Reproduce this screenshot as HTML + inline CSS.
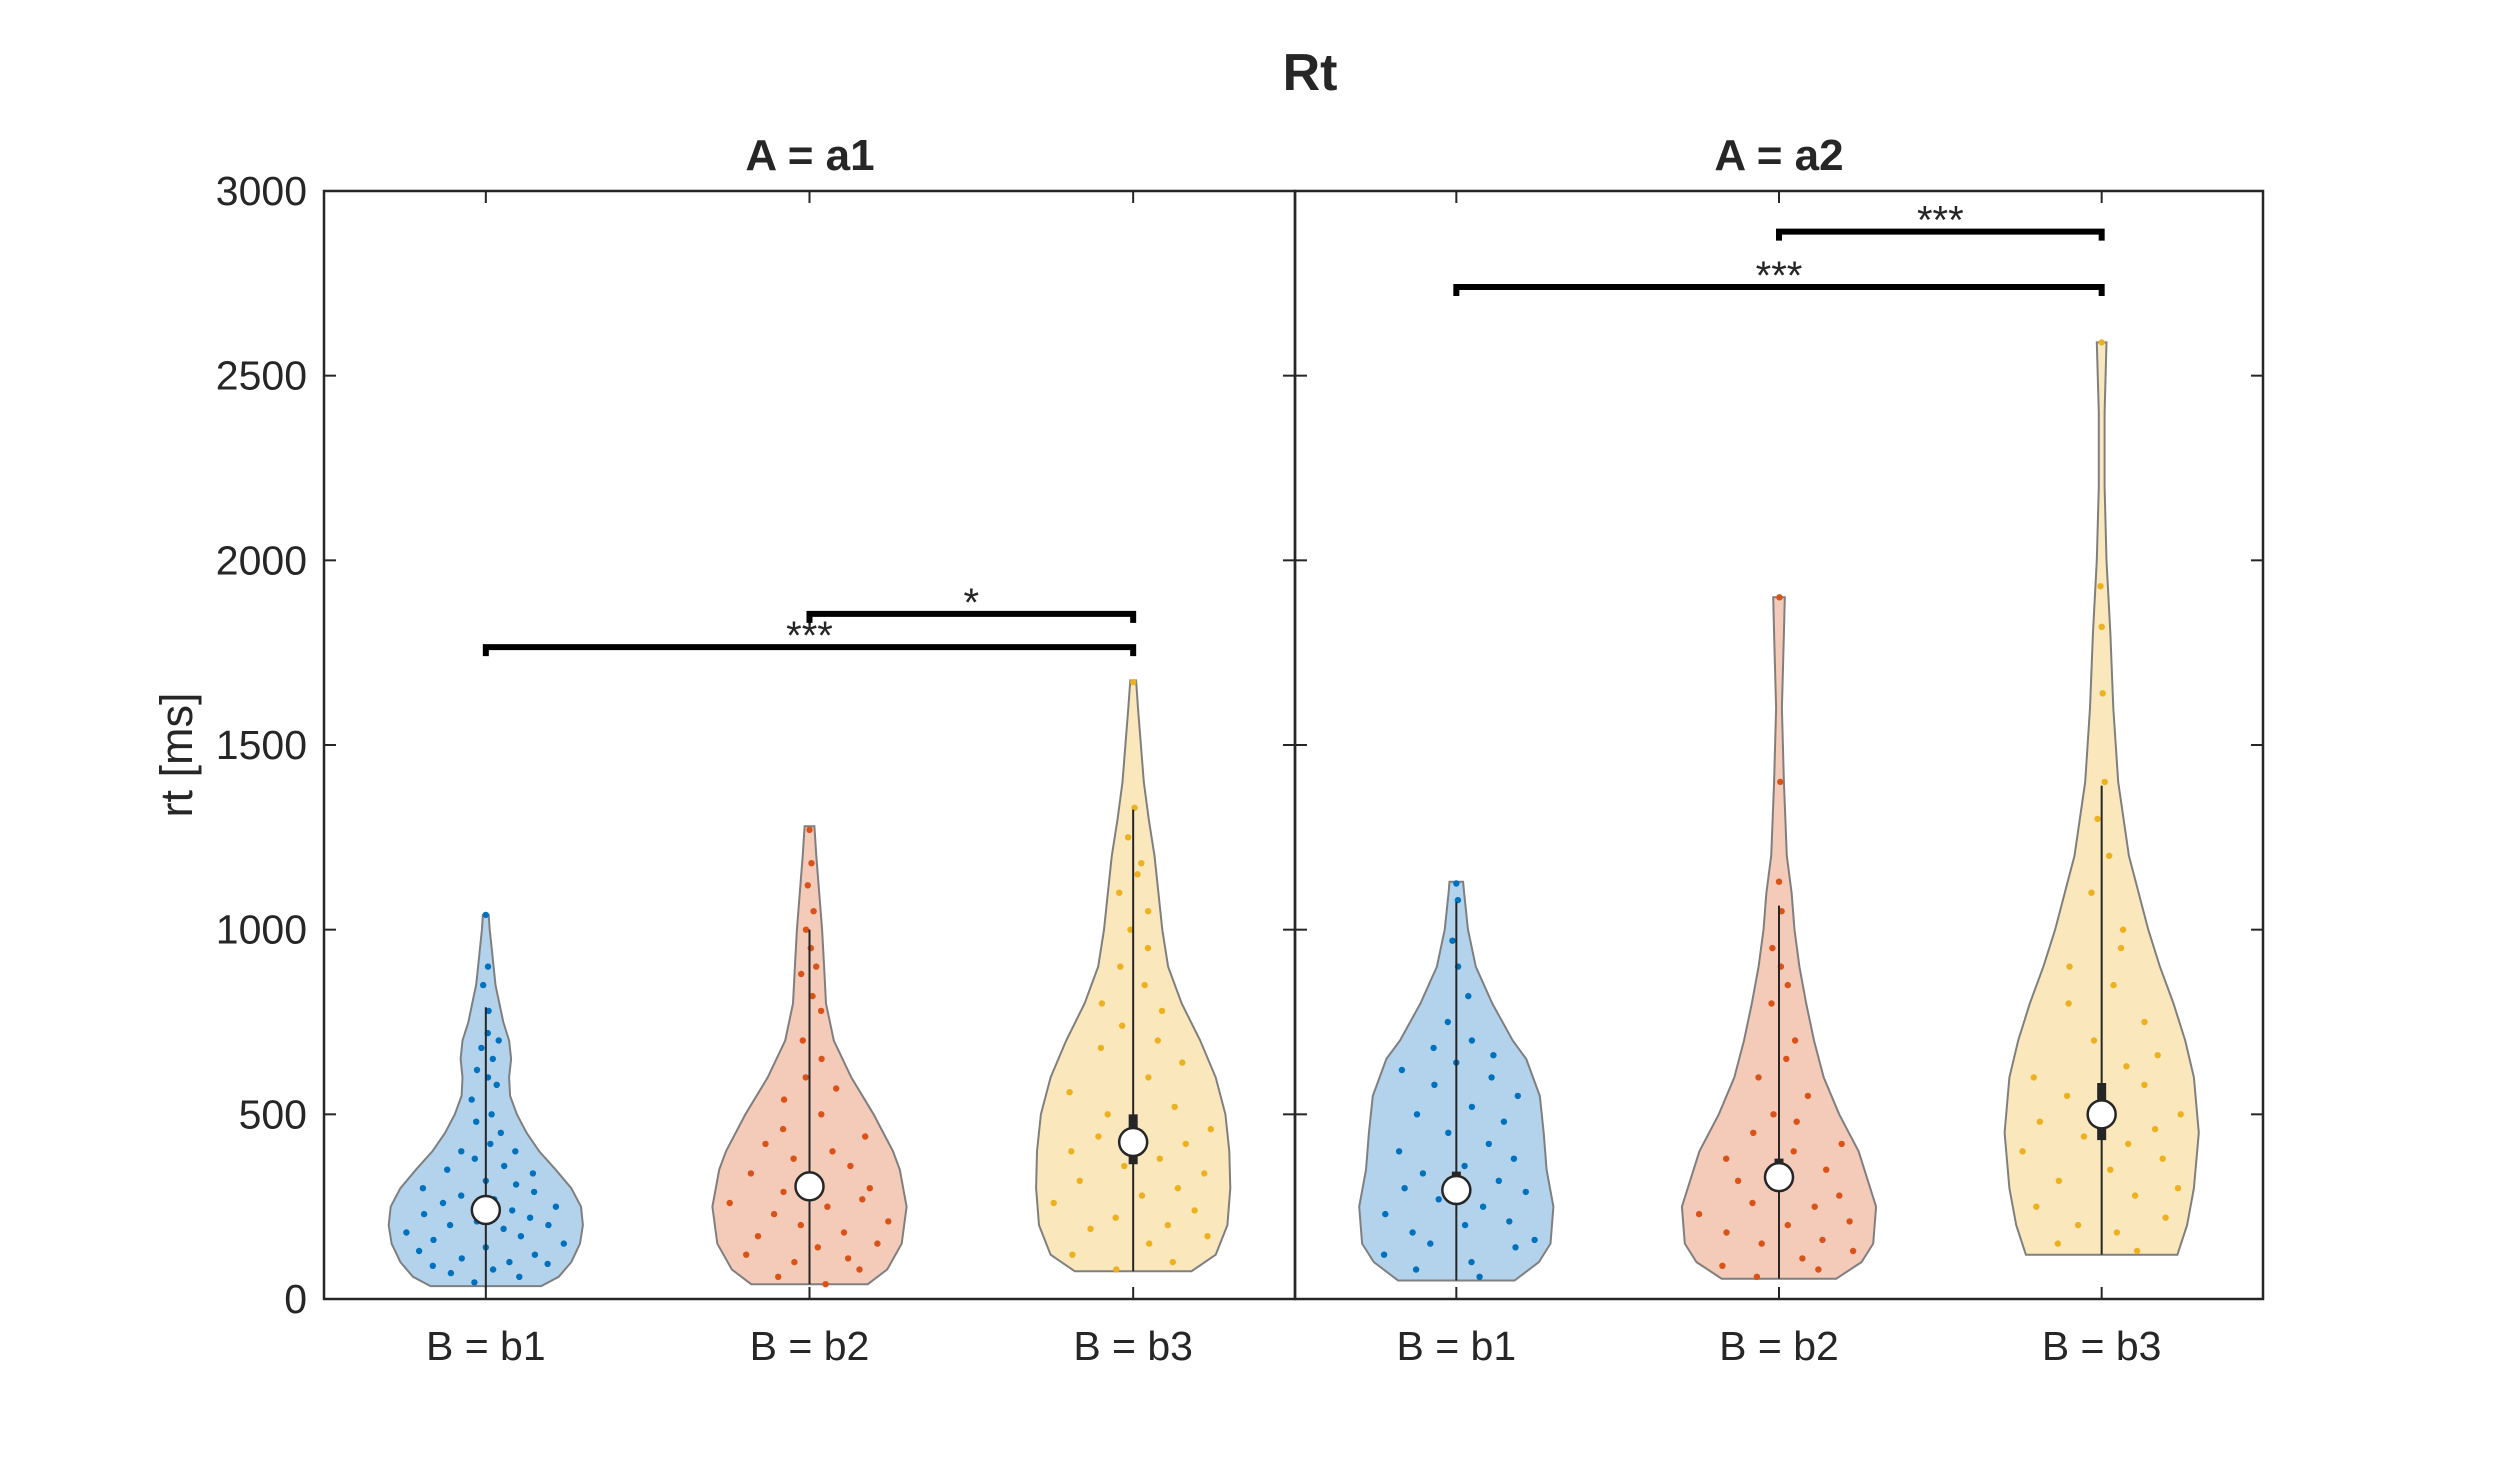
<!DOCTYPE html>
<html><head><meta charset="utf-8"><style>
html,body{margin:0;padding:0;background:#fff;}
svg{display:block;}
text{font-family:"Liberation Sans",Arial,sans-serif;fill:#262626;}
</style></head><body>
<svg id="chart" width="2500" height="1458" viewBox="0 0 2500 1458" xmlns="http://www.w3.org/2000/svg">
<rect width="2500" height="1458" fill="#fff"/>
<text x="1310" y="90" font-size="52" font-weight="bold" text-anchor="middle">Rt</text>
<text x="810" y="170" font-size="44" font-weight="bold" text-anchor="middle" fill="#000">A = a1</text>
<text x="1779" y="170" font-size="44" font-weight="bold" text-anchor="middle" fill="#000">A = a2</text>
<text transform="translate(192,755) rotate(-90)" font-size="45" text-anchor="middle">rt [ms]</text>
<g id="plot"></g>
</svg>
<script>
// ---- data ----
const yTicks = [0, 500, 1000, 1500, 2000, 2500, 3000];
const panels = ["a1", "a2"];
const categories = ["B = b1", "B = b2", "B = b3"];
const colors = ["#0072BD", "#D95319", "#EDB120"];
const fills = ["#b3d3ec", "#f4cab8", "#fae8bc"];
// violin profiles: rt levels and relative half-widths
const profY = [
 [[35,60,100,150,200,250,300,350,400,450,500,550,600,650,700,750,800,850,900,950,1000,1040],
  [40,80,150,250,350,400,500,600,700,800,900,1000,1100,1200,1280],
  [75,120,200,300,400,500,600,700,800,900,1000,1100,1200,1300,1400,1500,1600,1675]],
 [[50,100,150,250,350,450,550,650,700,800,900,1000,1100,1130],
  [55,100,150,250,400,500,600,700,800,900,1000,1100,1200,1400,1600,1800,1900],
  [120,200,300,450,600,700,800,900,1000,1100,1200,1400,1600,1800,2000,2200,2400,2590]]
];
const profW = [
 [[0.57,0.75,0.88,0.97,1.0,0.98,0.88,0.72,0.55,0.42,0.32,0.25,0.24,0.26,0.24,0.18,0.14,0.1,0.08,0.06,0.04,0.03],
  [0.6,0.8,0.95,1.0,0.93,0.86,0.66,0.43,0.25,0.17,0.15,0.13,0.1,0.07,0.05],
  [0.6,0.85,0.97,1.0,0.99,0.95,0.85,0.69,0.5,0.36,0.3,0.26,0.22,0.16,0.11,0.08,0.05,0.03]],
 [[0.6,0.85,0.97,1.0,0.93,0.9,0.86,0.72,0.58,0.37,0.2,0.12,0.08,0.07],
  [0.59,0.85,0.97,1.0,0.82,0.62,0.46,0.36,0.28,0.21,0.16,0.13,0.08,0.05,0.03,0.05,0.06],
  [0.78,0.88,0.95,1.0,0.95,0.86,0.74,0.6,0.48,0.38,0.28,0.17,0.12,0.09,0.05,0.03,0.03,0.05]]
];
const medians = [[241,305,425],[295,330,500]];
const q1 = [[225,285,365],[265,290,430]];
const q3 = [[280,345,500],[345,380,585]];
const whiskLo = [[30,40,75],[50,55,120]];
const whiskHi = [[790,1000,1325],[1075,1065,1390]];
// scatter points: rt values and jitter fraction (-1..1)
const ptsRt = [
 [[45,60,70,80,90,95,100,110,120,130,140,150,160,170,180,190,200,200,210,220,230,240,250,260,270,280,290,300,310,320,340,350,360,380,400,400,420,450,480,500,540,580,600,620,650,680,700,720,780,850,900,1040],
  [40,60,80,100,110,120,140,150,170,180,200,210,230,250,260,270,290,300,320,340,360,380,400,420,440,460,500,540,570,600,650,700,780,820,880,900,950,1000,1050,1120,1180,1270],
  [80,100,120,150,170,190,200,220,240,260,280,300,320,340,360,380,400,420,440,460,480,500,520,560,600,640,680,700,740,780,800,850,900,950,1000,1050,1100,1150,1180,1250,1330,1670]],
 [[60,80,100,120,140,150,160,180,200,210,230,250,270,290,300,320,340,360,380,400,420,450,480,500,520,550,580,600,620,640,660,680,700,750,820,900,970,1080,1125],
  [60,80,90,110,130,150,160,180,200,210,230,250,260,280,300,320,350,380,400,420,450,480,500,550,600,650,700,800,850,900,950,1050,1130,1400,1900],
  [130,150,180,200,220,250,280,300,320,350,380,400,420,440,460,480,500,520,550,580,600,630,660,700,750,800,850,900,950,1000,1100,1200,1300,1400,1640,1820,1930,2590]]
];
const ptsJit = [
 [[-0.2,0.5,-0.5,0.1,-0.7,0.8,0.3,-0.3,0.6,-0.8,0.0,0.9,-0.6,0.4,-0.9,0.2,-0.4,0.7,-0.1,0.5,-0.7,0.3,0.8,-0.5,0.1,-0.3,0.6,-0.8,0.4,0.0,0.7,-0.6,0.3,-0.2,0.6,-0.5,0.1,0.4,-0.3,0.2,-0.6,0.5,0.1,-0.4,0.3,-0.2,0.6,0.1,0.2,-0.3,0.3,0.0],
  [0.3,-0.5,0.7,-0.2,0.5,-0.8,0.1,0.8,-0.6,0.4,-0.1,0.9,-0.4,0.2,-0.9,0.6,-0.3,0.7,0.0,-0.7,0.5,-0.2,0.3,-0.6,0.8,-0.4,0.2,-0.5,0.6,-0.1,0.4,-0.3,0.7,0.2,-0.6,0.5,0.1,-0.3,0.4,-0.2,0.3,0.0],
  [-0.3,0.6,-0.8,0.2,0.9,-0.5,0.4,-0.2,0.7,-0.9,0.1,0.5,-0.6,0.8,-0.1,0.3,-0.7,0.6,-0.4,0.9,0.0,-0.3,0.5,-0.8,0.2,0.7,-0.5,0.4,-0.2,0.6,-0.7,0.3,-0.4,0.5,-0.1,0.6,-0.6,0.2,0.4,-0.3,0.1,0.0]],
 [[0.4,-0.6,0.2,-0.9,0.7,-0.3,0.9,-0.5,0.1,0.6,-0.8,0.3,-0.2,0.8,-0.6,0.5,-0.4,0.1,0.7,-0.7,0.4,-0.1,0.6,-0.5,0.2,0.8,-0.3,0.5,-0.8,0.0,0.6,-0.4,0.3,-0.2,0.4,0.1,-0.3,0.2,0.0],
  [-0.4,0.6,-0.8,0.3,0.9,-0.2,0.5,-0.6,0.1,0.8,-0.9,0.4,-0.3,0.7,0.0,-0.5,0.6,-0.7,0.2,0.9,-0.4,0.3,-0.1,0.6,-0.5,0.2,0.5,-0.3,0.4,0.1,-0.4,0.2,0.0,0.3,0.1],
  [0.5,-0.6,0.2,-0.3,0.8,-0.8,0.4,0.9,-0.5,0.1,0.7,-0.9,0.3,-0.2,0.6,-0.7,0.9,0.0,-0.4,0.5,-0.8,0.3,0.7,-0.1,0.6,-0.5,0.2,-0.6,0.4,0.5,-0.3,0.3,-0.2,0.2,0.1,0.0,-0.2,0.0]]
];
// significance brackets: panel, from cat, to cat, height, label
const sigPanel = [0,0,1,1];
const sigFrom = [0,1,0,1];
const sigTo = [2,2,2,2];
const sigY = [1765,1855,2740,2890];
const sigLabel = ["***","*","***","***"];

// ---- layout ----
const Y0 = 1299, Y1 = 191, YMAX = 3000;
const panelX = [[324,1295],[1295,2263]];
const NS = "http://www.w3.org/2000/svg";
const plot = document.getElementById('plot');
function y(v){ return Y0 - (v / YMAX) * (Y0 - Y1); }
function x(p, c){ const [a,b] = panelX[p]; return a + (c + 0.5) * (b - a) / 3; }
const HALF = 0.3 * (panelX[0][1] - panelX[0][0]) / 3;
function mk(tag, attrs, parent){ const e = document.createElementNS(NS, tag); for (const k in attrs) e.setAttribute(k, attrs[k]); (parent||plot).appendChild(e); return e; }
function widthAt(p, c, v){
  const ys = profY[p][c], ws = profW[p][c];
  if (v <= ys[0]) return ws[0];
  for (let i = 1; i < ys.length; i++) if (v <= ys[i]) { const t = (v - ys[i-1]) / (ys[i] - ys[i-1]); return ws[i-1] + t * (ws[i] - ws[i-1]); }
  return ws[ws.length-1];
}

for (let p = 0; p < 2; p++) {
  for (let c = 0; c < 3; c++) {
    const cx = x(p, c);
    const g = mk('g', {});
    
    
    const ys = profY[p][c], ws = profW[p][c];
    let d = '';
    for (let i = 0; i < ys.length; i++) d += (i ? 'L' : 'M') + (cx + ws[i]*HALF).toFixed(1) + ',' + y(ys[i]).toFixed(1);
    for (let i = ys.length - 1; i >= 0; i--) d += 'L' + (cx - ws[i]*HALF).toFixed(1) + ',' + y(ys[i]).toFixed(1);
    d += 'Z';
    const body = mk('path', {d: d, fill: fills[c], stroke: '#7f7f7f', 'stroke-width': 2}, g);
    
    
    const rts = ptsRt[p][c], js = ptsJit[p][c];
    for (let i = 0; i < rts.length; i++) {
      const w = widthAt(p, c, rts[i]) * HALF * 0.92;
      const dot = mk('circle', {cx: (cx + js[i]*w).toFixed(1), cy: y(rts[i]).toFixed(1), r: 3.2, fill: colors[c]}, g);
      
      
    }
    const wl = mk('line', {x1: cx, x2: cx, y1: y(whiskLo[p][c]), y2: y(whiskHi[p][c]), stroke: '#262626', 'stroke-width': 2}, g);
    
    
    const bx = mk('line', {x1: cx, x2: cx, y1: y(q1[p][c]), y2: y(q3[p][c]), stroke: '#262626', 'stroke-width': 9}, g);
    
    
    const md = mk('circle', {cx: cx, cy: y(medians[p][c]), r: 14, fill: '#fff', stroke: '#262626', 'stroke-width': 2.5}, g);
    
    
  }
  const [a, b] = panelX[p];
  const ax = mk('rect', {x: a, y: Y1, width: b - a, height: Y0 - Y1, fill: 'none', stroke: '#262626', 'stroke-width': 2.5});
  
  
  for (const t of yTicks) {
    const l1 = mk('line', {x1: a, x2: a + 12, y1: y(t), y2: y(t), stroke: '#262626', 'stroke-width': 2});
    
    
    const l2 = mk('line', {x1: b, x2: b - 12, y1: y(t), y2: y(t), stroke: '#262626', 'stroke-width': 2});
    
    
  }
  for (let c = 0; c < 3; c++) {
    const xt = x(p, c);
    const t1 = mk('line', {x1: xt, x2: xt, y1: Y0, y2: Y0 - 12, stroke: '#262626', 'stroke-width': 2});
    
    
    const t2 = mk('line', {x1: xt, x2: xt, y1: Y1, y2: Y1 + 12, stroke: '#262626', 'stroke-width': 2});
    
    
    const lb = mk('text', {x: xt, y: 1360, 'font-size': 41, 'text-anchor': 'middle'});
    lb.textContent = categories[c];
    
    
  }
}
for (const t of yTicks) {
  const lb = mk('text', {x: 307, y: y(t) + 14, 'font-size': 41, 'text-anchor': 'end'});
  lb.textContent = t;
  
  
}
for (let i = 0; i < sigY.length; i++) {
  const x1 = x(sigPanel[i], sigFrom[i]), x2 = x(sigPanel[i], sigTo[i]), yy = y(sigY[i]);
  const br = mk('path', {d: `M${x1},${yy+9}L${x1},${yy}L${x2},${yy}L${x2},${yy+9}`, fill: 'none', stroke: '#000', 'stroke-width': 6});
  
  
  const st = mk('text', {x: (x1 + x2) / 2, y: yy + 2, 'font-size': 40, 'text-anchor': 'middle', fill: '#000'});
  st.textContent = sigLabel[i];
  
  
}
</script>
</body></html>
